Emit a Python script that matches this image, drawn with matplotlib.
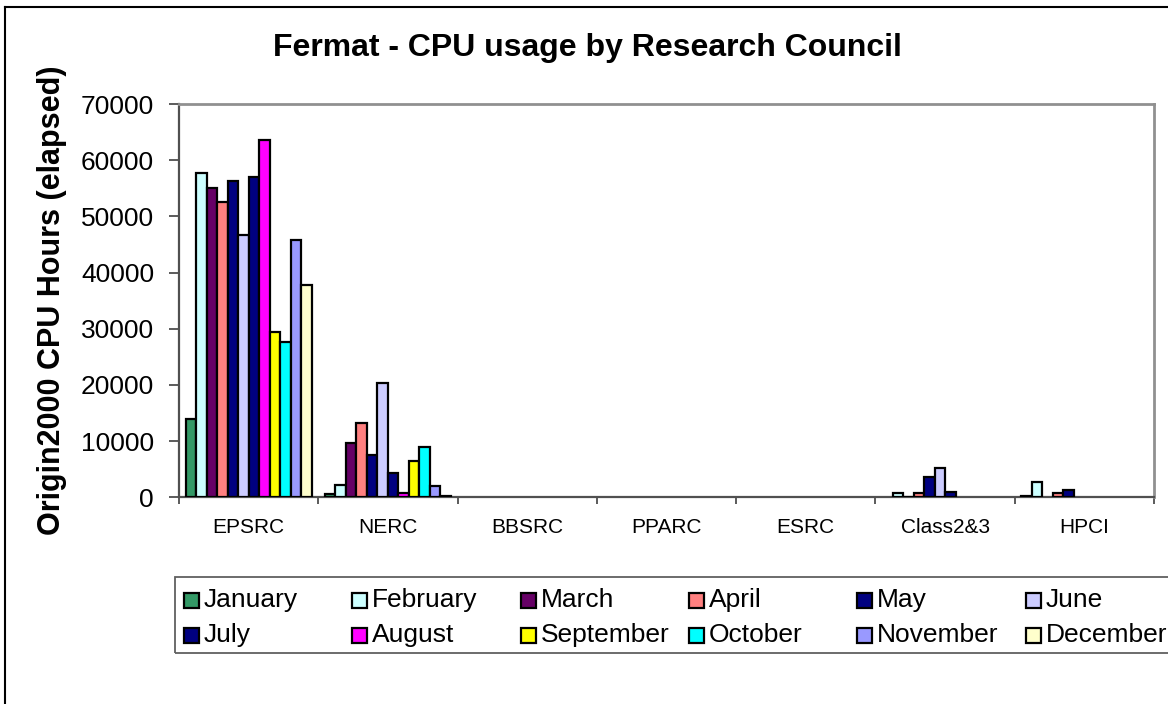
import matplotlib.pyplot as plt
import numpy as np
from matplotlib.patches import Rectangle
from matplotlib.lines import Line2D

plt.rcParams['font.family'] = ['Liberation Sans', 'DejaVu Sans']

councils = ['EPSRC', 'NERC', 'BBSRC', 'PPARC', 'ESRC', 'Class2&3', 'HPCI']
months = ['January', 'February', 'March', 'April', 'May', 'June',
          'July', 'August', 'September', 'October', 'November', 'December']
monthColours = ['#339966', '#CCFFFF', '#660066', '#FF8080', '#000080', '#CCCCFF',
                '#000080', '#FF00FF', '#FFFF00', '#00FFFF', '#9999FF', '#FFFFCC']

# monthly CPU hours, one list per research council (Jan..Dec)
epsrc = [13960, 57750, 55080, 52510, 56380, 46760, 57040, 63510, 29340, 27560, 45810, 37850]
nerc = [590, 2200, 9730, 13300, 7600, 20430, 4280, 820, 6520, 8910, 2070, 290]
bbsrc = [0, 0, 0, 0, 0, 0, 0, 0, 0, 0, 0, 0]
pparc = [0, 0, 0, 0, 0, 0, 0, 0, 0, 0, 0, 0]
esrc = [0, 0, 0, 0, 0, 0, 0, 0, 0, 0, 0, 0]
class23 = [0, 700, 100, 800, 3700, 5300, 950, 0, 0, 0, 0, 0]
hpci = [250, 2800, 0, 800, 1250, 0, 0, 0, 0, 0, 0, 0]

usage = np.array([epsrc, nerc, bbsrc, pparc, esrc, class23, hpci])

W, H = 1168, 704
fig = plt.figure(figsize=(W / 100, H / 100), dpi=100)
ax = fig.add_axes([179 / W, 1 - 497.3 / H, 975 / W, 393.3 / H])

x = np.arange(len(councils))
bw = 0.0754
for m in range(len(months)):
    offs = (m - 5.5) * bw
    vals = usage[:, m]
    keep = vals > 0
    ax.bar(x[keep] + offs, vals[keep], width=bw, color=monthColours[m],
           edgecolor='black', linewidth=1.6, zorder=3)

ax.set_xlim(-0.5, len(councils) - 0.5)
ax.set_ylim(0, 70000)
ax.set_yticks(np.arange(0, 70001, 10000))
ax.tick_params(axis='y', direction='out', length=7, width=1.2, color='#404040',
               pad=11, labelsize=19)
ax.set_xticks(np.arange(-0.5, len(councils), 1.0))
ax.set_xticklabels([])
ax.set_xticks(x, minor=True)
ax.set_xticklabels(councils, minor=True, fontsize=15)
ax.tick_params(axis='x', which='major', direction='out', length=5, width=1.2,
               color='#404040')
ax.tick_params(axis='x', which='minor', length=0, pad=15)

for side in ['top', 'right']:
    ax.spines[side].set_color('#909090')
    ax.spines[side].set_linewidth(2)
for side in ['left', 'bottom']:
    ax.spines[side].set_color('#505050')
    ax.spines[side].set_linewidth(1.6)

ax.set_ylabel('Origin2000 CPU Hours (elapsed)', fontsize=22, fontweight='bold',
              labelpad=10)
fig.text(587 / W, 1 - 48 / H, 'Fermat - CPU usage by Research Council',
         ha='center', va='center', fontsize=23, fontweight='bold')

# outer chart frame (left and top edges visible)
fig.add_artist(Line2D([5 / W, 5 / W], [0, 1 - 7 / H], color='black', lw=1.5,
                      transform=fig.transFigure))
fig.add_artist(Line2D([5 / W, 1], [1 - 7 / H, 1 - 7 / H], color='black', lw=1.5,
                      transform=fig.transFigure))

# legend box, laid out row by row like the original
fig.add_artist(Rectangle((175 / W, 1 - 653 / H), 1020 / W, 76 / H, fill=False,
                         edgecolor='#606060', lw=1.3, transform=fig.transFigure))
for m, name in enumerate(months):
    col = m % 6
    row = m // 6
    lx = 184 + col * 168.3
    ly = 600 + row * 35
    fig.add_artist(Rectangle((lx / W, 1 - (ly + 7.5) / H), 15 / W, 15 / H,
                             facecolor=monthColours[m], edgecolor='black', lw=1.6,
                             transform=fig.transFigure))
    fig.text((lx + 20) / W, 1 - ly / H, name, ha='left', va='center', fontsize=19)

fig.savefig('out.png', dpi=100)
